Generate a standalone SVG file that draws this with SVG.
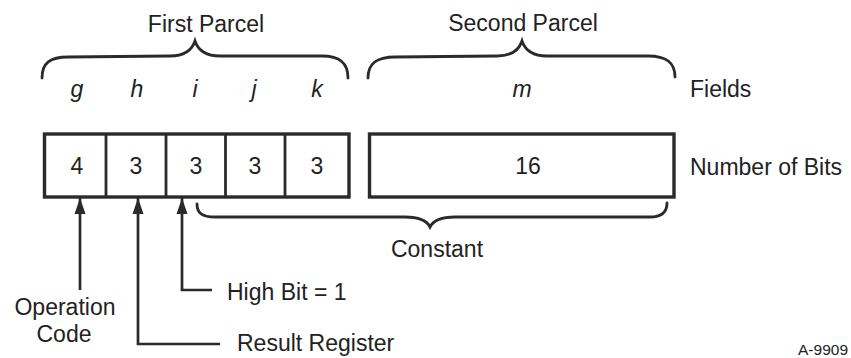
<svg xmlns="http://www.w3.org/2000/svg" width="851" height="358" viewBox="0 0 851 358">
<style>
text{font-family:"Liberation Sans",Arial,sans-serif;fill:#222;font-size:23px}
.it{font-style:italic}
.mid{text-anchor:middle}
.box{fill:#fff;stroke:#2a2a2a;stroke-width:3.4}
.div{stroke:#2a2a2a;stroke-width:2.8}
.brace{fill:none;stroke:#2a2a2a;stroke-width:2.8;stroke-linecap:round}
.conn{fill:none;stroke:#2a2a2a;stroke-width:2.7}
</style>
<defs>
<marker id="ah" markerUnits="userSpaceOnUse" markerWidth="16" markerHeight="12" refX="16" refY="6" orient="auto">
<path d="M0,0.5 L16,6 L0,11.5 z" fill="#2a2a2a"/>
</marker>
</defs>
<rect width="851" height="358" fill="#fff"/>

<g id="first-parcel">
<path class="brace" d="M42,78 C42,63 50,57 68,57 L170,56 C185,56 192,50 195,41 C198,50 205,56 220,56 L322,56 C340,56 348,63 348,78"/>
<text class="mid" x="206" y="32">First Parcel</text>
<text class="it mid" x="77" y="97">g</text>
<text class="it mid" x="137" y="97">h</text>
<text class="it mid" x="195" y="97">i</text>
<text class="it mid" x="254" y="97">j</text>
<text class="it mid" x="317" y="97">k</text>
<rect class="box" x="44.5" y="134" width="304.5" height="63"/>
<line class="div" x1="106" y1="134" x2="106" y2="197"/>
<line class="div" x1="166" y1="134" x2="166" y2="197"/>
<line class="div" x1="225.5" y1="134" x2="225.5" y2="197"/>
<line class="div" x1="285" y1="134" x2="285" y2="197"/>
<text class="mid" x="77" y="174">4</text>
<text class="mid" x="136" y="174">3</text>
<text class="mid" x="196" y="174">3</text>
<text class="mid" x="255" y="174">3</text>
<text class="mid" x="317" y="174">3</text>
</g>

<g id="second-parcel">
<path class="brace" d="M368,78 C368,63 377,57 395,57 L497,56 C512,56 519,50 522,41 C525,50 532,56 547,56 L648,56 C666,56 675,62 675,77"/>
<text class="mid" x="523" y="31">Second Parcel</text>
<text class="it mid" x="522" y="97">m</text>
<rect class="box" x="369.5" y="134" width="304.5" height="63"/>
<text class="mid" x="528" y="174">16</text>
</g>

<g id="row-labels">
<text x="690" y="97">Fields</text>
<text x="690" y="175">Number of Bits</text>
</g>

<g id="constant">
<path class="brace" d="M197,204 C197,213 202,217 215,217 L405,217 C420,217 427,221 430,227 C433,221 440,217 455,217 L650,217 C662,217 667,212 667,203"/>
<text class="mid" x="437" y="257">Constant</text>
</g>

<g id="opcode">
<text class="mid" x="65" y="315">Operation</text>
<text class="mid" x="64" y="342">Code</text>
</g>
<g id="result-register">
<text x="237" y="351">Result Register</text>
</g>
<g id="high-bit">
<text x="227" y="300">High Bit = 1</text>
</g>

<g id="connectors">
<path class="conn" d="M80,290 L80,198" marker-end="url(#ah)"/>
<path class="conn" d="M220,344 L138,344 L138,198" marker-end="url(#ah)"/>
<path class="conn" d="M212,290 L182,290 L182,198" marker-end="url(#ah)"/>
</g>

<text x="848" y="355" style="font-size:15.5px;text-anchor:end">A-9909</text>
</svg>
